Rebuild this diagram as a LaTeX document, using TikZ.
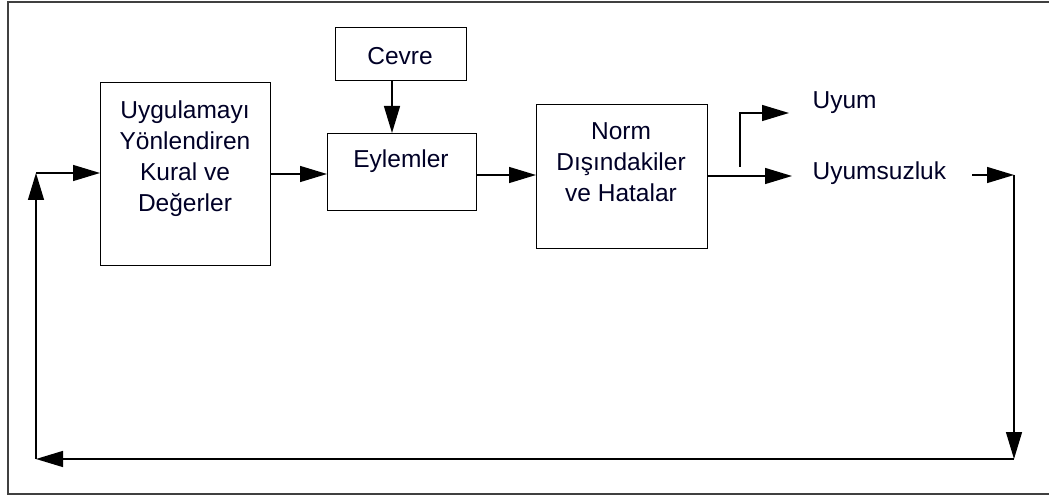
\documentclass[tikz,border=0pt]{standalone}
\usepackage{fontspec}
\setmainfont{Liberation Sans}
\usetikzlibrary{arrows.meta}
\begin{document}
\begin{tikzpicture}[x=1pt,y=-1pt,
  line width=1.3pt,
  blk/.style={draw, line width=1.3pt, inner sep=0pt, anchor=north west},
  lbl/.style={font=\fontsize{24.5}{31}\selectfont, align=center, inner sep=0pt, text=black!85!blue},
  arr/.style={-{Triangle[length=27pt,width=16pt]}},
]
\useasboundingbox (0,0) rectangle (1049,497);
\clip (0,0) rectangle (1049,497);
% outer frame, running past the right edge
\draw[line width=2pt, black!75] (8,2) rectangle (1060,494);

% boxes
\node[blk, minimum width=170pt, minimum height=183pt] (kural) at (100,82) {};
\node[blk, minimum width=131pt, minimum height=53pt] (cevre) at (335,27) {};
\node[blk, minimum width=149pt, minimum height=77pt] (eylem) at (327,133) {};
\node[blk, minimum width=171pt, minimum height=144pt] (norm) at (536,104) {};

% box texts
\node[lbl] (tkural) at (185,159) {Uygulamayı\\Yönlendiren\\Kural ve\\Değerler};
\node[lbl] (tcevre) at (400,56) {Cevre};
\node[lbl] (teylem) at (401,161) {Eylemler};
\node[lbl] (tnorm) at (621,162) {Norm\\Dışındakiler\\ve Hatalar};
\node[lbl, anchor=west] (uyum) at (812,103) {Uyum};
\node[lbl, anchor=west] (uyums) at (812,173) {Uyumsuzluk};

% fixed points of the connectors
\coordinate (split) at (740,175);
\coordinate (outR) at (1014,175);
\coordinate (botR) at (1014,459);
\coordinate (botL) at (36,459);
\coordinate (inL) at (36,173);

% connectors
\draw[arr] (cevre.south -| 392,0) -- (392,133);
\draw[arr] (kural.east |- 0,174) -- (eylem.west |- 0,174);
\draw[arr] (eylem.east |- 0,175) -- (norm.west |- 0,175);
\draw[arr] (norm.east |- 0,176) -- (792,176);
\draw[arr] (740,167) -- (740,113) -- (789,113);
\draw[arr] (972,175) -- (outR);
\draw[arr] (outR) -- (botR);
\draw[arr] (botR) -- (botL);
\draw[arr] (botL) -- (inL);
\draw[arr] (inL) -- (kural.west |- inL);
\end{tikzpicture}
\end{document}
